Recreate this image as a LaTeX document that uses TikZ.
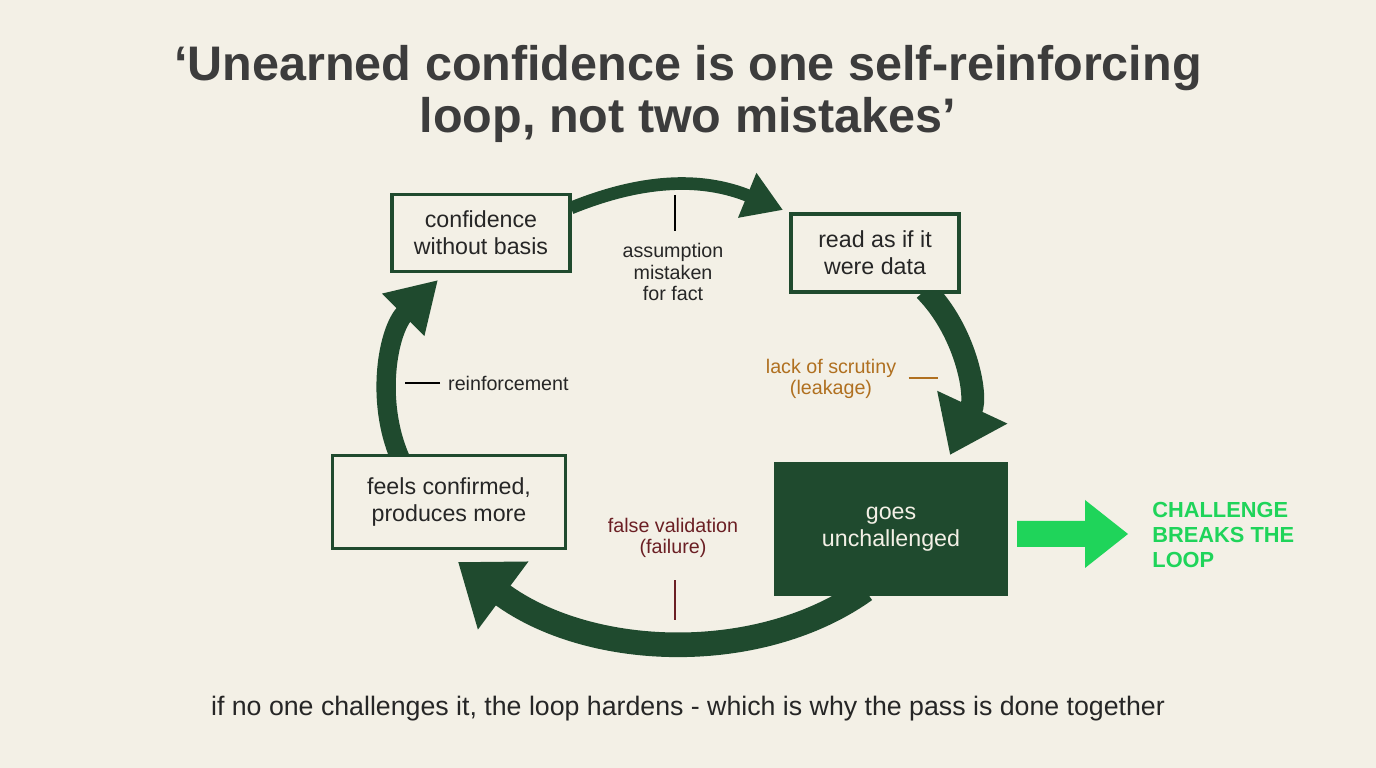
\documentclass[tikz,border=0pt]{standalone}
\usepackage{fontspec}
\setmainfont{Liberation Sans}
\usetikzlibrary{arrows.meta}
\definecolor{bg}{HTML}{F3F0E6}
\definecolor{dg}{HTML}{1F4A2E}
\definecolor{ora}{HTML}{B07020}
\definecolor{dred}{HTML}{6B1F24}
\definecolor{lg}{HTML}{1FD45A}
\definecolor{ink}{HTML}{262626}
\begin{document}
\begin{tikzpicture}[x=0.01cm,y=-0.01cm,text=ink,
  box/.style={draw=dg,line width=0.9pt,fill=bg,align=center,font=\fontsize{6.6}{7.6}\selectfont,minimum width=#1},
  loop/.style={draw=dg,line width=#1,-{Triangle[length=13pt,width=17pt]}},
  lab/.style={align=center,font=\fontsize{5.6}{6.2}\selectfont}]
\useasboundingbox[fill=bg] (0,0) rectangle (1376,768);
\node[font=\bfseries\fontsize{13.8}{14.8}\selectfont,align=center,text=ink!90!white] (title) at (688,94) {‘Unearned confidence is one self-reinforcing\\loop, not two mistakes’};
% arrows
\draw[loop=3.6pt,-{Triangle[length=11pt,width=13pt]}] (571,208) .. controls (640,180) and (700,176) .. (783,210);
\draw[loop=6.5pt,-{Triangle[length=15pt,width=21pt]}] (925,290) .. controls (965,330) and (978,395) .. (950,455);
\draw[loop=7pt,-{Triangle[length=16pt,width=23pt]}] (865,590) .. controls (760,665) and (590,660) .. (458,562);
\draw[loop=5.5pt,-{Triangle[length=14pt,width=16pt]}] (400,458) .. controls (375,400) and (388,330) .. (438,280);
% boxes
\node[box=178*0.2845pt,minimum height=77*0.2845pt] (conf) at (481,233) {confidence\\without basis};
\node[box=168*0.2845pt,minimum height=78*0.2845pt] (read) at (875,253) {read as if it\\were data};
\node[box=233*0.2845pt,minimum height=93*0.2845pt] (feels) at (449,502) {feels confirmed,\\produces more};
\node[box=230*0.2845pt,minimum height=130*0.2845pt,fill=dg,text=bg] (goes) at (891,529) {goes\\unchallenged};
% labels
\node[lab] (l1) at (673,272) {assumption\\mistaken\\for fact};
\coordinate (t1) at (675,195);
\draw[line width=0.4pt] (t1) -- (l1.north -| t1);
\node[lab,text=ora] (l2) at (831,379) {lack of scrutiny\\(leakage)};
\coordinate (t2) at (938,378);
\draw[ora,line width=0.5pt] (l2.east |- t2) -- (t2);
\node[lab,anchor=west,inner sep=1pt] (l3) at (444,383) {reinforcement};
\coordinate (t3) at (405,383);
\draw[line width=0.5pt] (l3.west) ++(-4,0) -- (t3);
\node[lab,text=dred] (l4) at (673,538) {false validation\\(failure)};
\coordinate (t4) at (675,620);
\draw[dred,line width=0.5pt] (l4.south -| t4) ++(0,10) -- (t4);
% challenge arrow
\fill[lg] (1017,521) -- (1085,521) -- (1085,500) -- (1128,534) -- (1085,568) -- (1085,547) -- (1017,547) -- cycle;
\node[anchor=west,align=left,text=lg,font=\bfseries\fontsize{6.2}{7}\selectfont] (ct) at (1140,535) {CHALLENGE\\BREAKS THE\\LOOP};
\node[font=\fontsize{7.6}{9}\selectfont] (cap) at (688,709) {if no one challenges it, the loop hardens - which is why the pass is done together};
\end{tikzpicture}
\end{document}
